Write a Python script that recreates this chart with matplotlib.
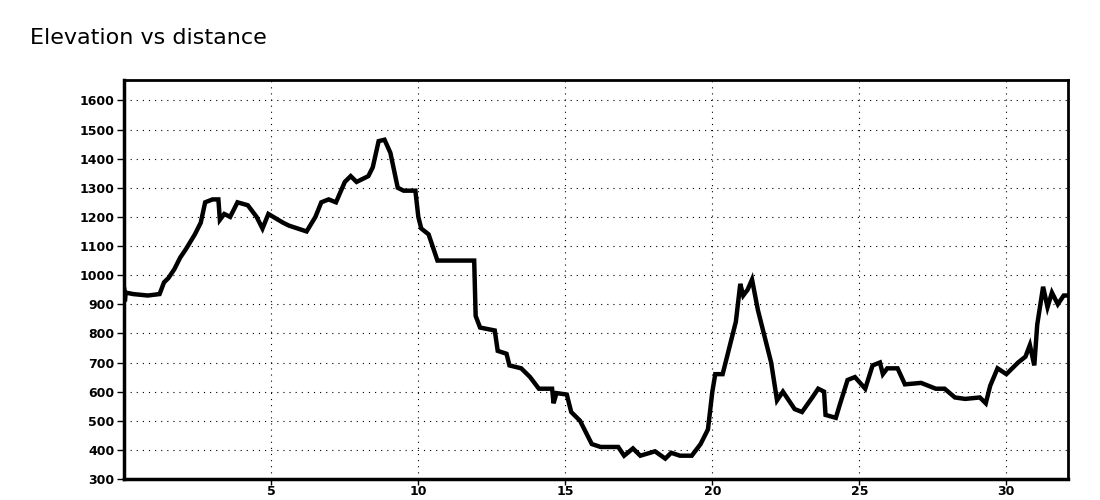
import numpy as np
import matplotlib.pyplot as plt

# distance (km) and elevation (m)
distance = [0.0, 0.02, 0.05, 0.3, 0.8, 1.2, 1.35, 1.5, 1.7, 1.9, 2.1, 2.4, 2.6, 2.75,
            3.0, 3.2, 3.25, 3.4, 3.6, 3.85, 4.2, 4.5, 4.7, 4.9, 5.4, 5.6, 6.2, 6.5,
            6.7, 6.95, 7.2, 7.5, 7.7, 7.9, 8.3, 8.45, 8.65, 8.85, 9.05, 9.3, 9.5,
            9.9, 10.0, 10.1, 10.35, 10.65, 11.0, 11.9, 11.95, 12.1, 12.6, 12.7,
            13.0, 13.1, 13.5, 13.8, 14.1, 14.55, 14.6, 14.7, 15.05, 15.2, 15.5,
            15.75, 15.9, 16.2, 16.8, 17.0, 17.3, 17.55, 18.05, 18.4, 18.6, 18.9,
            19.3, 19.6, 19.85, 20.0, 20.1, 20.35, 20.6, 20.8, 20.95, 21.05, 21.2,
            21.35, 21.55, 21.8, 22.0, 22.2, 22.4, 22.8, 23.05, 23.4, 23.6, 23.8,
            23.85, 24.2, 24.35, 24.6, 24.85, 25.2, 25.45, 25.7, 25.8, 25.95, 26.3,
            26.55, 27.1, 27.6, 27.9, 28.25, 28.6, 29.1, 29.3, 29.45, 29.7, 30.0,
            30.2, 30.4, 30.65, 30.8, 30.95, 31.0, 31.05, 31.25, 31.4, 31.55, 31.75,
            31.95, 32.1]
elevation = [950, 910, 940, 935, 930, 935, 975, 990, 1020, 1060, 1090, 1140, 1180, 1250,
             1260, 1260, 1190, 1210, 1200, 1250, 1240, 1200, 1160, 1210, 1180, 1170,
             1150, 1200, 1250, 1260, 1250, 1320, 1340, 1320, 1340, 1370, 1460, 1465,
             1420, 1300, 1290, 1290, 1200, 1160, 1140, 1050, 1050, 1050, 860, 820,
             810, 740, 730, 690, 680, 650, 610, 610, 560, 595, 590, 530, 500, 450,
             420, 410, 410, 380, 405, 380, 395, 370, 390, 380, 380, 420, 470, 600,
             660, 660, 760, 840, 970, 930, 950, 985, 880, 780, 700, 570, 600, 540,
             530, 580, 610, 600, 520, 510, 560, 640, 650, 610, 690, 700, 660, 680,
             680, 625, 630, 610, 610, 580, 575, 580, 560, 620, 680, 660, 680, 700,
             720, 760, 690, 760, 830, 960, 890, 940, 900, 930, 930]

x_ticks = [5, 10, 15, 20, 25, 30]
y_ticks = [300, 400, 500, 600, 700, 800, 900, 1000, 1100, 1200, 1300, 1400, 1500, 1600]

fig = plt.figure(figsize=(11, 5), dpi=100)
ax = fig.add_axes([0.113, 0.042, 0.858, 0.798])

ax.plot(distance, elevation, color='black', linewidth=3.2, solid_joinstyle='miter')

ax.set_xlim(0, 32.1)
ax.set_ylim(300, 1670)
ax.set_xticks(x_ticks)
ax.set_yticks(y_ticks)
ax.grid(True, color='black', linestyle=(0, (1, 4.5)), linewidth=0.8)
ax.tick_params(axis='y', labelsize=9, length=5, width=1, pad=2, colors='black')
ax.tick_params(axis='x', labelsize=9, length=4, width=1, pad=0, colors='black')
for lab in ax.get_xticklabels() + ax.get_yticklabels():
    lab.set_fontweight('bold')

for side in ['left', 'bottom']:
    ax.spines[side].set_linewidth(2.5)
for side in ['top', 'right']:
    ax.spines[side].set_linewidth(2)

fig.text(0.027, 0.905, 'Elevation vs distance', fontsize=16, va='bottom', ha='left')

fig.savefig('out.png', dpi=100)
